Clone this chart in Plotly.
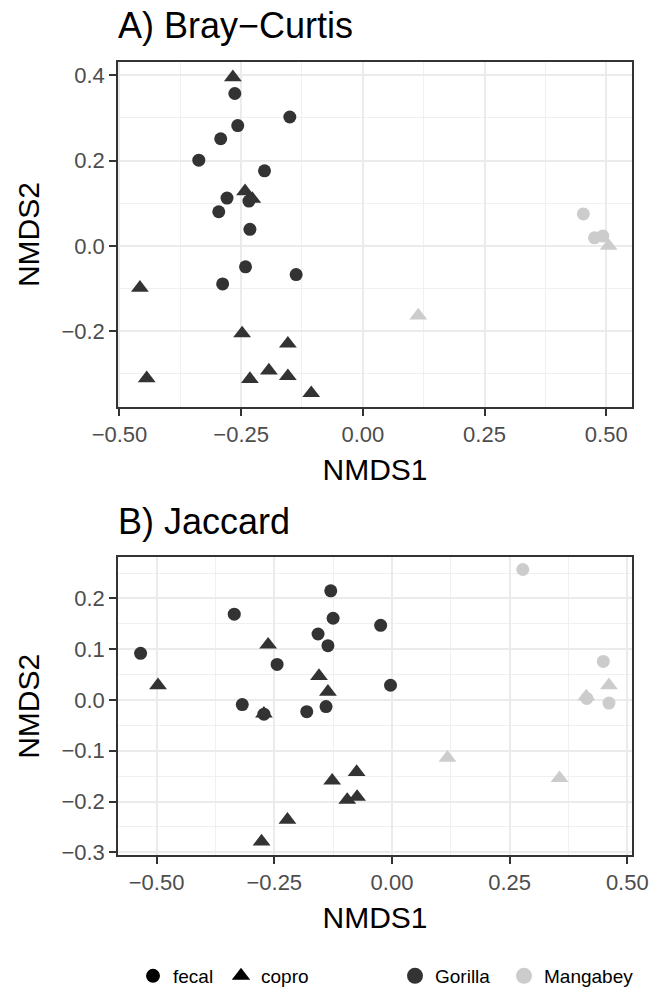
import plotly.graph_objects as go

# ---------------- Data ----------------
# A) Bray-Curtis
bc_gor_fecal_x = [-0.263, -0.150, -0.257, -0.292, -0.337, -0.202, -0.279, -0.234, -0.296, -0.232, -0.241, -0.137, -0.288]
bc_gor_fecal_y = [0.357, 0.302, 0.282, 0.251, 0.201, 0.176, 0.112, 0.105, 0.080, 0.039, -0.049, -0.067, -0.089]
bc_gor_copro_x = [-0.267, -0.242, -0.227, -0.458, -0.248, -0.154, -0.444, -0.232, -0.193, -0.154, -0.106]
bc_gor_copro_y = [0.395, 0.128, 0.110, -0.098, -0.205, -0.229, -0.310, -0.312, -0.292, -0.305, -0.345]
bc_man_fecal_x = [0.453, 0.476, 0.493]
bc_man_fecal_y = [0.075, 0.019, 0.023]
bc_man_copro_x = [0.505, 0.114]
bc_man_copro_y = [0.000, -0.163]

# B) Jaccard
ja_gor_fecal_x = [-0.130, -0.335, -0.125, -0.024, -0.157, -0.136, -0.534, -0.244, -0.003, -0.318, -0.140, -0.181, -0.272]
ja_gor_fecal_y = [0.215, 0.169, 0.161, 0.147, 0.130, 0.107, 0.092, 0.070, 0.029, -0.009, -0.013, -0.023, -0.028]
ja_gor_copro_x = [-0.263, -0.155, -0.497, -0.136, -0.272, -0.127, -0.075, -0.095, -0.074, -0.222, -0.277]
ja_gor_copro_y = [0.109, 0.047, 0.029, 0.016, -0.027, -0.159, -0.142, -0.197, -0.191, -0.236, -0.279]
ja_man_fecal_x = [0.278, 0.449, 0.414, 0.461]
ja_man_fecal_y = [0.257, 0.076, 0.003, -0.006]
ja_man_copro_x = [0.461, 0.413, 0.118, 0.356]
ja_man_copro_y = [0.029, 0.007, -0.114, -0.154]

titles = ["A) Bray\u2212Curtis", "B) Jaccard"]
type_labels = ["fecal", "copro"]
host_labels = ["Gorilla", "Mangabey"]

GOR = "#333333"
MAN = "#CCCCCC"
FONT = "Liberation Sans, Arial, sans-serif"

fig = go.Figure()

def add_pts(x, y, color, symbol, size, xa, ya):
    fig.add_trace(go.Scatter(x=x, y=y, mode="markers", xaxis=xa, yaxis=ya,
                             marker=dict(color=color, symbol=symbol, size=size, line=dict(width=0)),
                             showlegend=False, hoverinfo="skip"))

CS, TS = 13, 15.5
# panel A
add_pts(bc_gor_fecal_x, bc_gor_fecal_y, GOR, "circle", CS, "x", "y")
add_pts(bc_man_fecal_x, bc_man_fecal_y, MAN, "circle", CS, "x", "y")
add_pts(bc_gor_copro_x, bc_gor_copro_y, GOR, "triangle-up", TS, "x", "y")
add_pts(bc_man_copro_x, bc_man_copro_y, MAN, "triangle-up", TS, "x", "y")
# panel B
add_pts(ja_gor_fecal_x, ja_gor_fecal_y, GOR, "circle", CS, "x2", "y2")
add_pts(ja_man_fecal_x, ja_man_fecal_y, MAN, "circle", CS, "x2", "y2")
add_pts(ja_gor_copro_x, ja_gor_copro_y, GOR, "triangle-up", TS, "x2", "y2")
add_pts(ja_man_copro_x, ja_man_copro_y, MAN, "triangle-up", TS, "x2", "y2")

# legend-only traces
fig.add_trace(go.Scatter(x=[None], y=[None], mode="markers", name=type_labels[0], legend="legend",
                         marker=dict(color="black", symbol="circle", size=14)))
fig.add_trace(go.Scatter(x=[None], y=[None], mode="markers", name=type_labels[1], legend="legend",
                         marker=dict(color="black", symbol="triangle-up", size=17)))
fig.add_trace(go.Scatter(x=[None], y=[None], mode="markers", name=host_labels[0], legend="legend2",
                         marker=dict(color=GOR, symbol="circle", size=16)))
fig.add_trace(go.Scatter(x=[None], y=[None], mode="markers", name=host_labels[1], legend="legend3",
                         marker=dict(color=MAN, symbol="circle", size=16)))

W, H = 651, 995
def px_x(p): return p / W
def px_y(p): return 1 - p / H

xd = [px_x(118), px_x(632)]
axis_common = dict(
    automargin=False,
    showline=True, linecolor="#333333", linewidth=1.5, mirror=True,
    ticks="outside", ticklen=7, tickwidth=1.5, tickcolor="#333333",
    showgrid=True, gridcolor="#EBEBEB", gridwidth=2,
    zeroline=False,
    tickfont=dict(family=FONT, size=22, color="#4D4D4D"),
    title_font=dict(family=FONT, size=30, color="black"),
)
minor_common = dict(showgrid=True, gridcolor="#F0F0F0", gridwidth=1, ticks="")
leg_common = dict(orientation="h", xanchor="left", y=px_y(986), yanchor="middle",
                  font=dict(family=FONT, size=19, color="black"), bgcolor="rgba(0,0,0,0)")

fig.update_layout(
    width=W, height=H,
    margin=dict(l=0, r=0, t=0, b=0),
    paper_bgcolor="white", plot_bgcolor="white",
    font=dict(family=FONT),
    xaxis=dict(domain=xd, anchor="y", range=[-0.503, 0.553], tick0=0, dtick=0.25, tickformat=".2f",
               minor=dict(dtick=0.125, tick0=0, **minor_common),
               title=dict(text="NMDS1", standoff=13), **axis_common),
    yaxis=dict(domain=[px_y(411), px_y(63)], anchor="x", range=[-0.377, 0.430], tick0=0, dtick=0.2, tickformat=".1f",
               minor=dict(dtick=0.1, tick0=0, **minor_common),
               title=dict(text="NMDS2", standoff=13), **axis_common),
    xaxis2=dict(domain=xd, anchor="y2", range=[-0.582, 0.510], tick0=0, dtick=0.25, tickformat=".2f",
                minor=dict(dtick=0.125, tick0=0, **minor_common),
                title=dict(text="NMDS1", standoff=13), **axis_common),
    yaxis2=dict(domain=[px_y(864), px_y(563)], anchor="x2", range=[-0.306, 0.281], tick0=0, dtick=0.1, tickformat=".1f",
                minor=dict(dtick=0.05, tick0=0, **minor_common),
                title=dict(text="NMDS2", standoff=13), **axis_common),
    legend=dict(x=px_x(133), entrywidth=43, entrywidthmode="pixels", **leg_common),
    legend2=dict(x=px_x(395), **leg_common),
    legend3=dict(x=px_x(504), **leg_common),
    annotations=[
        dict(text=titles[0], xref="paper", yref="paper", x=px_x(116), y=px_y(26), xanchor="left", yanchor="middle",
             showarrow=False, font=dict(family=FONT, size=36, color="black")),
        dict(text=titles[1], xref="paper", yref="paper", x=px_x(116), y=px_y(527), xanchor="left", yanchor="middle",
             showarrow=False, font=dict(family=FONT, size=36, color="black")),
    ],
)

fig.write_html("out.html", config={"displayModeBar": False},
               post_script="document.body.style.margin='0px';document.body.style.padding='0px';")
